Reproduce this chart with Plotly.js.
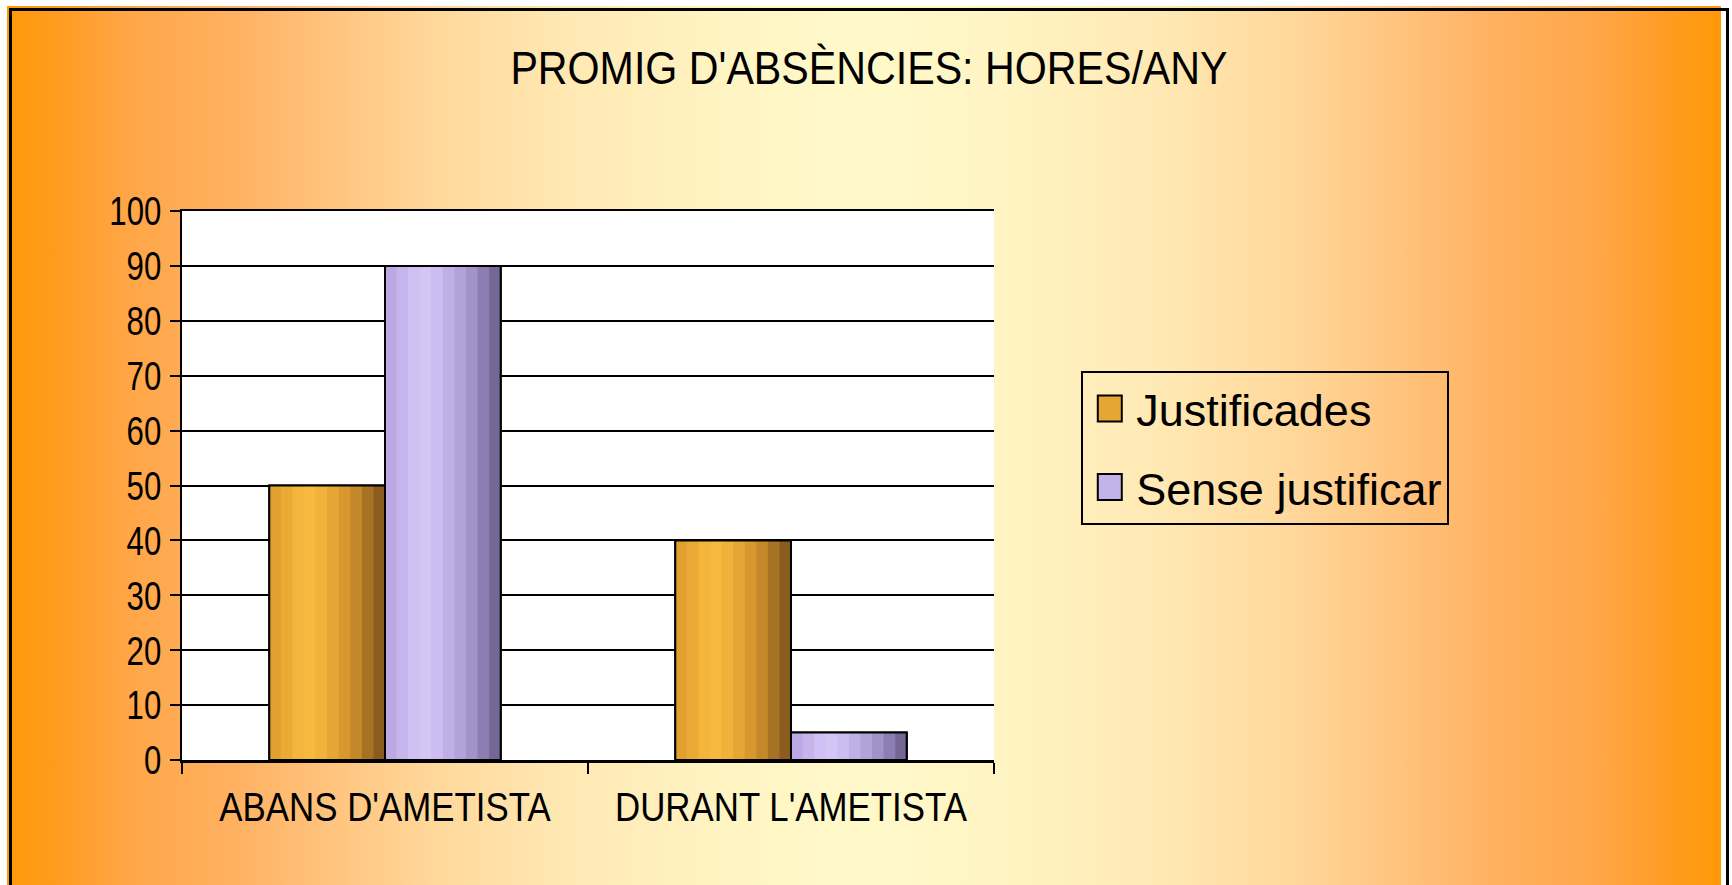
<!DOCTYPE html>
<html>
<head>
<meta charset="utf-8">
<script src="https://cdn.plot.ly/plotly-3.0.1.min.js"></script>
<style>
  html, body { margin: 0; padding: 0; background: #ffffff; }
  #wrap { position: relative; width: 1732px; height: 885px; overflow: hidden; background: #ffffff; }
  #bg { position: absolute; left: 7px; top: 6px; width: 1714px; height: 900px;
        background: linear-gradient(to right,
          #FF9908 0%, #FF9C20 3%, #FFA646 7%, #FFB060 13%, #FFC47E 19%, #FFD89B 25%,
          #FFE9B4 33%, #FFF4C3 42%, #FFF9CA 50%, #FFF4C3 58%, #FFE9B4 67%,
          #FFD89B 75%, #FFC47E 81%, #FFB060 87%, #FFA646 93%, #FF9C20 97%, #FF9908 100%); }
  #frame { position: absolute; left: 9px; top: 8px; width: 1714px; height: 900px;
           border-left: 3px solid #000; border-top: 3px solid #000; border-right: 3px solid #000; }
  #chart { position: absolute; left: 0; top: 0; width: 1732px; height: 885px; }
</style>
</head>
<body>
<div id="wrap">
  <div id="bg"></div>
  <div id="frame"></div>
  <div id="chart"></div>
</div>
<script>
// ---- data ----
const categories = ["ABANS D'AMETISTA", "DURANT L'AMETISTA"];
const justificades = [50, 40];
const senseJustificar = [90, 5];
const seriesNames = ["Justificades", "Sense justificar"];
const yTickVals = [0, 10, 20, 30, 40, 50, 60, 70, 80, 90, 100];
const chartTitle = "PROMIG D'ABSÈNCIES: HORES/ANY";

// ---- style ----
const barWidth = 0.285;
const goldShades = ['#E2A030','#EBAA35','#F3B53C','#F6BA3F','#F0B23A','#E6A634','#D9982F','#C4872A','#A87224','#8A5C1D'];
const lavShades  = ['#BBA8E4','#C6B4EC','#D0C0F3','#D4C5F5','#CCBCEF','#C0AFE6','#B2A2DA','#A192C8','#8C7EB2','#736796'];

const series = [
  { name: seriesNames[0], values: justificades,    offset: -barWidth, base: '#E6A634', shades: goldShades, group: 'j' },
  { name: seriesNames[1], values: senseJustificar, offset: 0,         base: '#C4B2EA', shades: lavShades,  group: 's' }
];

const traces = [];
series.forEach(s => {
  traces.push({
    type: 'bar', x: categories, y: s.values, name: s.name,
    offset: s.offset, width: barWidth, legendgroup: s.group,
    marker: { color: s.base, line: { color: '#000', width: 2 } },
    hoverinfo: 'skip'
  });
  const n = s.shades.length;
  const sw = barWidth / n;
  s.shades.forEach((c, i) => {
    traces.push({
      type: 'bar', x: categories, y: s.values, showlegend: false,
      offset: s.offset + i * sw, width: sw + 0.001, legendgroup: s.group,
      marker: { color: c, line: { width: 0 } }, hoverinfo: 'skip'
    });
  });
  traces.push({
    type: 'bar', x: categories, y: s.values, showlegend: false,
    offset: s.offset, width: barWidth, legendgroup: s.group,
    marker: { color: 'rgba(0,0,0,0)', line: { color: '#000', width: 2 } }, hoverinfo: 'skip'
  });
});

const font = '"Liberation Sans", Arial, sans-serif';

const layout = {
  width: 1732, height: 885,
  paper_bgcolor: 'rgba(0,0,0,0)',
  plot_bgcolor: '#ffffff',
  margin: { l: 182, r: 738, t: 211, b: 125, pad: 0 },
  barmode: 'overlay',
  showlegend: true,
  title: {
    text: chartTitle,
    font: { family: font, size: 47, color: '#000' },
    x: 0.5017, xanchor: 'center', xref: 'container',
    y: 0.924, yanchor: 'middle', yref: 'container'
  },
  xaxis: {
    type: 'category',
    showgrid: false, zeroline: false,
    showline: true, linecolor: '#000', linewidth: 2.5, mirror: true,
    ticks: 'outside', tickson: 'boundaries', ticklen: 11, tickwidth: 2, tickcolor: '#000',
    tickangle: 0, ticklabelstandoff: 9,
    tickfont: { family: font, size: 41, color: '#000' },
    fixedrange: true
  },
  yaxis: {
    range: [0, 100],
    tickvals: yTickVals,
    ticktext: yTickVals.map(String),
    showgrid: true, gridcolor: '#000', gridwidth: 2,
    zeroline: false,
    showline: true, linecolor: '#000', linewidth: 2.5,
    ticks: 'outside', ticklen: 10, tickwidth: 2, tickcolor: '#000',
    tickfont: { family: font, size: 41, color: '#000' },
    fixedrange: true
  },
  legend: {
    x: 1.1075, xanchor: 'left', xref: 'paper',
    y: 0.709, yanchor: 'top', yref: 'paper',
    bgcolor: 'rgba(0,0,0,0)', bordercolor: '#000', borderwidth: 2,
    font: { family: font, size: 45, color: '#000' },
    itemwidth: 43,
    tracegroupgap: 17,
    traceorder: 'grouped'
  }
};

function condense(selector, factor) {
  document.querySelectorAll(selector).forEach(t => {
    const w = t.getComputedTextLength();
    if (w > 0) {
      t.setAttribute('textLength', (w * factor).toFixed(1));
      t.setAttribute('lengthAdjust', 'spacingAndGlyphs');
    }
  });
}

Plotly.newPlot('chart', traces, layout, { staticPlot: true, displayModeBar: false }).then(() => {
  condense('.gtitle', 0.876);
  condense('.xtick text', 0.85);
  condense('.ytick text', 0.76);
  // larger legend swatches, as in the original
  document.querySelectorAll('.legendpoints path').forEach(p => {
    p.setAttribute('d', 'M12,13H-12V-13H12Z');
  });
});
</script>
</body>
</html>
